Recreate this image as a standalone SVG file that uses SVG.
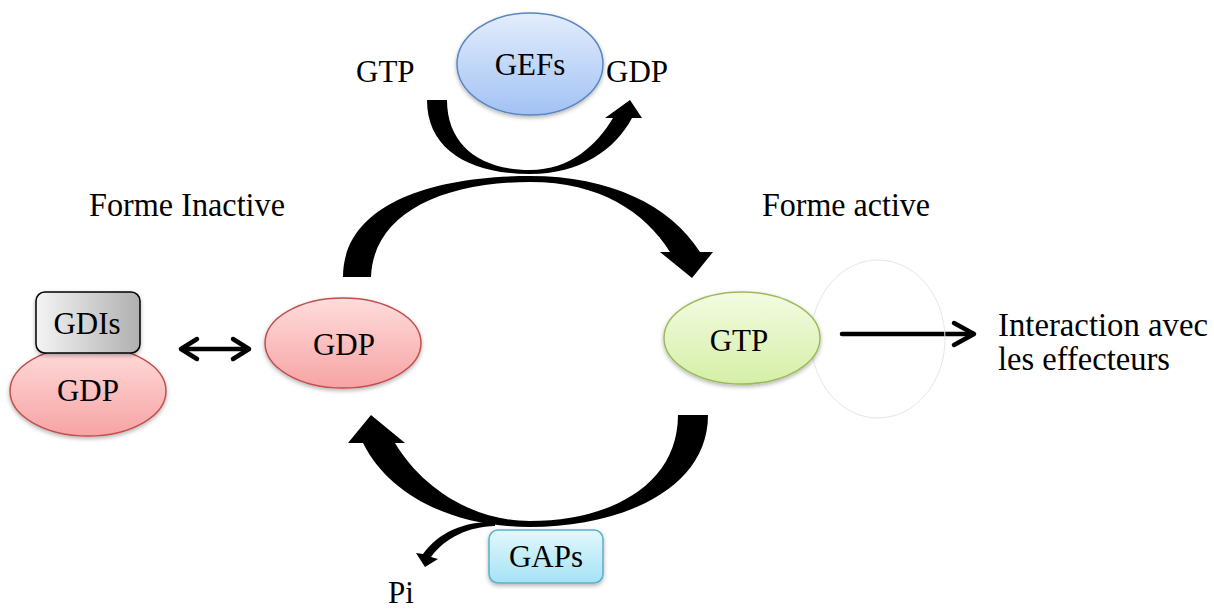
<svg xmlns="http://www.w3.org/2000/svg" width="1214" height="610" viewBox="0 0 1214 610">
<defs>
<linearGradient id="gBlue" x1="0" y1="0" x2="0" y2="1"><stop offset="0" stop-color="#e3edfc"/><stop offset="1" stop-color="#a2c2f4"/></linearGradient>
<linearGradient id="gPink" x1="0" y1="0" x2="0" y2="1"><stop offset="0" stop-color="#ffdcdc"/><stop offset="1" stop-color="#f7a3a3"/></linearGradient>
<linearGradient id="gGreen" x1="0" y1="0" x2="0" y2="1"><stop offset="0" stop-color="#f3fbe2"/><stop offset="1" stop-color="#d5efa6"/></linearGradient>
<linearGradient id="gCyan" x1="0" y1="0" x2="0" y2="1"><stop offset="0" stop-color="#e2f8fd"/><stop offset="1" stop-color="#a5e2f5"/></linearGradient>
<linearGradient id="gGray" x1="0" y1="0" x2="1" y2="0"><stop offset="0" stop-color="#f4f4f4"/><stop offset="1" stop-color="#b0b0b0"/></linearGradient>
<filter id="sh" x="-20%" y="-20%" width="140%" height="150%"><feDropShadow dx="0" dy="2" stdDeviation="2" flood-color="#000" flood-opacity="0.3"/></filter>
</defs>
<style>
text{font-family:"Liberation Serif","Times New Roman",serif;fill:#000;}
.lbl{font-size:31px;}
.big{font-size:34px;}
.mid{text-anchor:middle;}
.thick{fill:#000;stroke:none;}
.ln{fill:none;stroke:#000;stroke-width:4.5;stroke-linecap:round;stroke-linejoin:round;}
</style>

<g id="connectors">
  <path id="arc-top" class="thick" d="M343,277 C343,205 430,176 530,176 C610,176 670,205 700,252 L713,252 L692,278 L660,252 L670,252 C645,212 600,182 530,182 C440,182 373,215 371,277 Z"/>
  <path id="arc-gef" class="thick" d="M427,100 C427,150 470,174 530,174 C580,174 615,150 632,118 L642,118 L630,100 L605,118 L613,118 C597,145 570,170 530,170 C480,170 447,145 447,100 Z"/>
  <path id="arc-bottom" class="thick" d="M708,415 C708,490 620,527 530,527 C455,527 390,497 363,443 L348,443 L371,415 L405,443 L395,443 C420,485 470,521 530,521 C610,521 678,485 678,415 Z"/>
  <path id="arc-pi" class="thick" d="M495,522 C468,521 440,530 423,554 L416,553 L425,567 L438,559 L431,557 C446,537 468,527 495,526 Z"/>
  <g id="double-arrow">
    <line class="ln" x1="183" y1="349" x2="247" y2="349"/>
    <polyline class="ln" points="197,339 181,349 197,359"/>
    <polyline class="ln" points="233,339 249,349 233,359"/>
  </g>
  <g id="effector-arrow">
    <line class="ln" x1="842" y1="334" x2="972" y2="334"/>
    <polyline class="ln" points="954,323 974,334 954,345"/>
  </g>
</g>

<g id="gefs">
  <ellipse cx="530" cy="64" rx="73" ry="51" fill="url(#gBlue)" stroke="#5a86c2" stroke-width="1.5" filter="url(#sh)"/>
  <text class="lbl mid" x="530" y="75">GEFs</text>
</g>
<g id="gtp-in"><text class="lbl" x="356" y="82">GTP</text></g>
<g id="gdp-out"><text class="lbl" x="606" y="82">GDP</text></g>

<g id="label-inactive"><text class="big" x="89" y="216" textLength="196" lengthAdjust="spacingAndGlyphs">Forme Inactive</text></g>
<g id="label-active"><text class="big" x="762" y="216" textLength="168" lengthAdjust="spacingAndGlyphs">Forme active</text></g>

<g id="gdp-gdi">
  <ellipse cx="88" cy="391" rx="78" ry="45" fill="url(#gPink)" stroke="#c0504d" stroke-width="1.5" filter="url(#sh)"/>
  <text class="lbl mid" x="88" y="401">GDP</text>
</g>
<g id="gdis">
  <rect x="36" y="292" width="104" height="61" rx="9" fill="url(#gGray)" stroke="#000" stroke-width="1.5" filter="url(#sh)"/>
  <text class="lbl mid" x="87" y="334">GDIs</text>
</g>

<g id="gdp">
  <ellipse cx="343" cy="343" rx="78" ry="45" fill="url(#gPink)" stroke="#c0504d" stroke-width="1.5" filter="url(#sh)"/>
  <text class="lbl mid" x="344" y="355">GDP</text>
</g>

<g id="effector-zone">
  <ellipse cx="878" cy="339" rx="67" ry="79" fill="none" stroke="#e6e6e6" stroke-width="1"/>
</g>

<g id="gtp">
  <ellipse cx="742" cy="338" rx="78" ry="46" fill="url(#gGreen)" stroke="#9bbb59" stroke-width="1.5" filter="url(#sh)"/>
  <text class="lbl mid" x="739" y="351">GTP</text>
</g>

<g id="effectors">
  <text class="big" x="998" y="336" textLength="210" lengthAdjust="spacingAndGlyphs">Interaction avec</text>
  <text class="big" x="998" y="370" textLength="172" lengthAdjust="spacingAndGlyphs">les effecteurs</text>
</g>

<g id="gaps">
  <rect x="489" y="530" width="114" height="53" rx="9" fill="url(#gCyan)" stroke="#5ab0c8" stroke-width="1.5" filter="url(#sh)"/>
  <text class="lbl mid" x="546" y="567">GAPs</text>
</g>
<g id="pi"><text class="lbl" x="388" y="603">Pi</text></g>
</svg>
